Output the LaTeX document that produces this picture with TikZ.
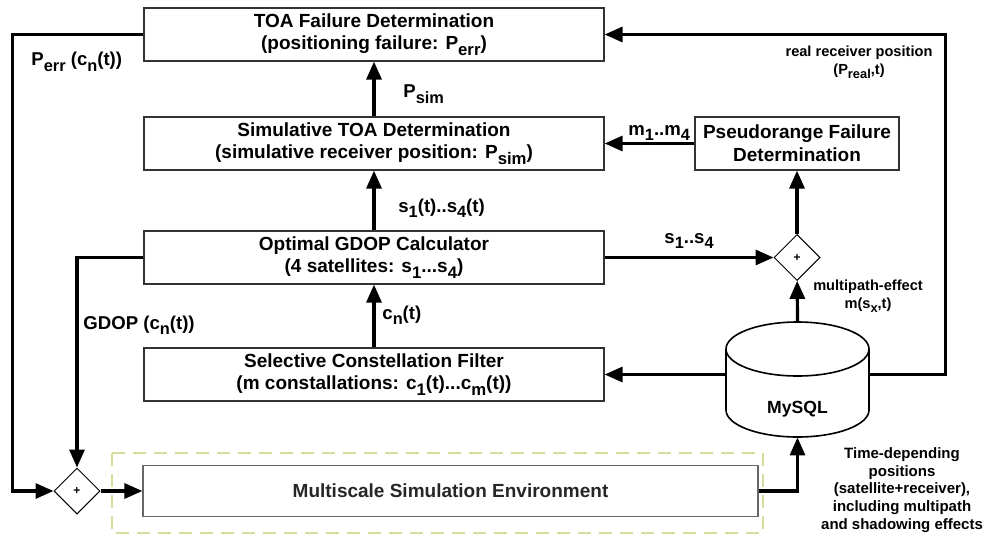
\documentclass[tikz,border=0pt]{standalone}
\usepackage{fontspec}
\setmainfont{Liberation Sans}
\usetikzlibrary{arrows.meta,shapes.geometric}
\newcommand{\lowidx}[1]{\raisebox{-0.55ex}{\scalebox{0.88}{#1}}}
\definecolor{envgreen}{HTML}{D3DF9E}
\tikzset{
  blockbox/.style={draw=black!80,line width=0.6pt,minimum height=26.5pt,inner sep=0pt,align=center,font=\fontsize{9.5}{11.3}\selectfont\bfseries},
  sumbox/.style={draw,shape=diamond,minimum size=23pt,inner sep=0pt,line width=0.5pt,fill=white,font=\fontsize{6}{7}\selectfont\bfseries},
  flow/.style={line width=1.6pt,-{Triangle[length=9pt,width=7.5pt]}},
  lbl/.style={font=\fontsize{9.3}{10}\selectfont\bfseries,inner sep=0pt,anchor=west},
  note/.style={font=\fontsize{7.3}{8.9}\selectfont\bfseries,align=center,inner sep=0pt},
}
\begin{document}
\begin{tikzpicture}[x=0.5pt,y=-0.5pt]
\useasboundingbox (0,0) rectangle (984,536);
% simulation environment frame
\draw[envgreen,line width=1pt,dash pattern=on 6.5pt off 4pt] (112,453) rectangle (763,533);
% blocks
\node[blockbox,minimum width=230pt] (toa) at (374,34.5) {TOA Failure Determination\\(positioning failure: P\lowidx{err})};
\node[blockbox,minimum width=230pt] (sim) at (374,143.5) {Simulative TOA Determination\\(simulative receiver position: P\lowidx{sim})};
\node[blockbox,minimum width=102pt] (pfd) at (797,143.5) {Pseudorange Failure\\Determination};
\node[blockbox,minimum width=230pt] (opt) at (374,257.5) {Optimal GDOP Calculator\\(4 satellites: s\lowidx{1}...s\lowidx{4})};
\node[blockbox,minimum width=230pt] (sel) at (374,374.5) {Selective Constellation Filter\\(m constallations: c\lowidx{1}(t)...c\lowidx{m}(t))};
\node[blockbox,minimum width=307.5pt,minimum height=25.5pt,draw=black!60,text=black!85] (ms) at (450.5,491) {Multiscale Simulation Environment};
\node[sumbox] (sum1) at (77,491) {+};
\node[sumbox] (sum2) at (797,257.5) {+};
% database cylinder
\node[minimum width=71.5pt,minimum height=57.5pt,inner sep=0pt] (db) at (797.5,379.5) {};
\draw[line width=0.8pt,fill=white] (726,349) -- (726,410) arc[start angle=180,end angle=0,x radius=71.5,y radius=27] -- (869,349);
\draw[line width=0.8pt] (797.5,349) ellipse[x radius=71.5,y radius=27];
\node[font=\fontsize{8.8}{10}\selectfont\bfseries] (dbname) at (797.5,409) {MySQL};
% connectors
\draw[flow] (sim) -- (toa);
\draw[flow] (opt) -- (sim);
\draw[flow] (sel) -- (opt);
\draw[flow] (pfd) -- (sim);
\draw[flow] (sum2) -- (pfd);
\draw[flow] (opt) -- (sum2);
\draw[flow] (db.north) -- (sum2);
\draw[flow] (db.west |- sel.east) -- (sel.east);
\draw[flow] (sum1) -- (ms);
\draw[flow] (ms.east) -| (db.south);
\draw[flow] (toa.west) -- ++(-131,0) |- (sum1.west);
\draw[flow] (opt.west) -| (sum1.north);
\draw[flow] (db.east |- sel.east) -- ++(76,0) |- (toa.east);
% labels
\node[lbl] (perr) at (31,62) {P\lowidx{err} (c\lowidx{n}(t))};
\node[lbl] (psim) at (403,94) {P\lowidx{sim}};
\node[lbl] (sst) at (398,208) {s\lowidx{1}(t)..s\lowidx{4}(t)};
\node[lbl] (cnt) at (382,315) {c\lowidx{n}(t)};
\node[lbl] (gdop) at (83,325) {GDOP (c\lowidx{n}(t))};
\node[lbl] (mm) at (628,133) {m\lowidx{1}..m\lowidx{4}};
\node[lbl] (ss) at (664,241) {s\lowidx{1}..s\lowidx{4}};
\node[note] (mpe) at (868,296) {multipath-effect\\m(s\lowidx{x},t)};
\node[note] (rrp) at (859,62) {real receiver position\\(P\lowidx{real},t)};
\node[note,font=\fontsize{7.5}{8.9}\selectfont\bfseries] (tdp) at (902,490) {Time-depending\\positions\\(satellite+receiver),\\including multipath\\and shadowing effects};
\end{tikzpicture}
\end{document}
